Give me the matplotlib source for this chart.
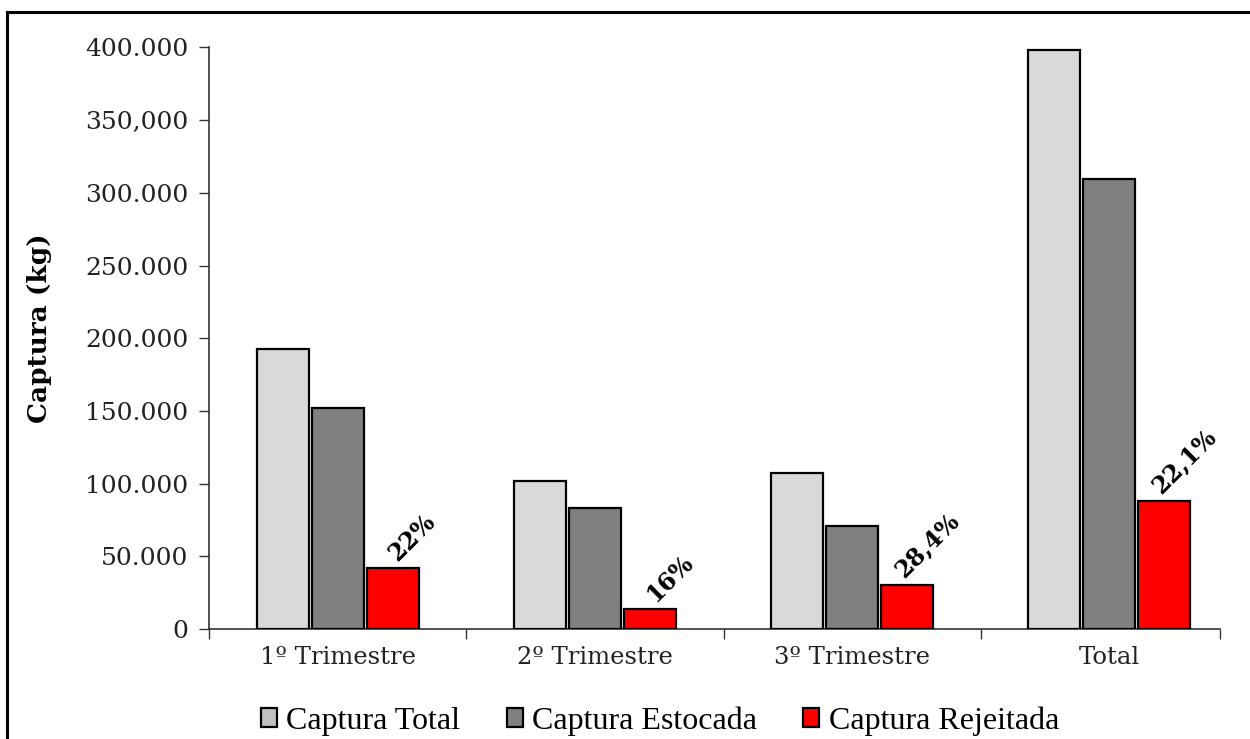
import matplotlib
matplotlib.use("Agg")
import matplotlib.pyplot as plt
from matplotlib.lines import Line2D
from matplotlib.patches import Patch
import numpy as np

# Data
categories = ["1º Trimestre", "2º Trimestre", "3º Trimestre", "Total"]
series_names = ["Captura Total", "Captura Estocada", "Captura Rejeitada"]
captura_total = [192400, 101900, 107400, 398400]
captura_estocada = [151900, 83400, 70800, 309800]
captura_rejeitada = [42000, 13500, 30500, 88000]
pct_labels = ["22%", "16%", "28,4%", "22,1%"]
y_ticks = [0, 50000, 100000, 150000, 200000, 250000, 300000, 350000, 400000]
y_tick_labels = ["0", "50.000", "100.000", "150.000", "200.000",
                 "250.000", "300.000", "350,000", "400.000"]

bar_colors = ["#D9D9D9", "#808080", "#FF0000"]
legend_colors = ["#C0C0C0", "#808080", "#FF0000"]

W, H, DPI = 1250, 739, 100
fig = plt.figure(figsize=(W / DPI, H / DPI), dpi=DPI)

# Outer frame (top and left edges visible)
fig.add_artist(Line2D([7 / W, 7 / W], [0, 1 - 12 / H], transform=fig.transFigure,
                      color="black", lw=2.2))
fig.add_artist(Line2D([7 / W, 1.0], [1 - 12 / H, 1 - 12 / H], transform=fig.transFigure,
                      color="black", lw=2.2))

left, right = 209 / W, 1220 / W
bottom, top = 1 - 629 / H, 1 - 47.5 / H
ax = fig.add_axes([left, bottom, right - left, top - bottom])

x = np.arange(len(categories))
width = 0.202
step = 0.214
series = [captura_total, captura_estocada, captura_rejeitada]
bars = []
for i, (vals, col) in enumerate(zip(series, bar_colors)):
    b = ax.bar(x + (i - 1) * step, vals, width=width, color=col,
               edgecolor="black", linewidth=1.6, zorder=3)
    bars.append(b)

# Percentage labels above the rejected-catch bars
for rect, lab in zip(bars[2], pct_labels):
    cx = rect.get_x() + rect.get_width() / 2
    ax.annotate(lab, (cx, rect.get_height()), xytext=(14, 2), textcoords="offset points",
                rotation=45, ha="center", va="bottom",
                fontsize=17, fontweight="bold", family="DejaVu Serif", color="black",
                zorder=4)

ax.set_xlim(-0.5, 3.43)
ax.set_ylim(0, 400000)

ax.set_yticks(y_ticks)
ax.set_yticklabels(y_tick_labels, family="DejaVu Serif", fontsize=18, color="#222222")
ax.tick_params(axis="y", length=7, width=1, color="#333333", pad=8)

ax.set_xticks([-0.5, 0.5, 1.5, 2.5, 3.43])
ax.set_xticklabels([])
ax.tick_params(axis="x", which="major", length=7, width=1, color="#333333")
ax.set_xticks(x, minor=True)
ax.set_xticklabels(categories, minor=True, family="DejaVu Serif", fontsize=17.5,
                   color="#222222")
ax.tick_params(axis="x", which="minor", length=0, pad=12)

for side in ["top", "right"]:
    ax.spines[side].set_visible(False)
for side in ["left", "bottom"]:
    ax.spines[side].set_color("#333333")
    ax.spines[side].set_linewidth(1.2)

fig.text(40 / W, 1 - 328 / H, "Captura (kg)", rotation=90, ha="center", va="center",
         family="DejaVu Serif", fontweight="bold", fontsize=19)

handles = [Patch(facecolor=c, edgecolor="black", linewidth=1.6) for c in legend_colors]
fig.legend(handles, series_names, loc="center", bbox_to_anchor=(0.528, 1 - 721 / H),
           ncol=3, frameon=False, prop={"family": "Liberation Serif", "size": 23},
           handlelength=0.5, handleheight=0.5, handletextpad=0.3, columnspacing=1.45,
           borderaxespad=0, borderpad=0)

fig.savefig("out.png", dpi=DPI)
